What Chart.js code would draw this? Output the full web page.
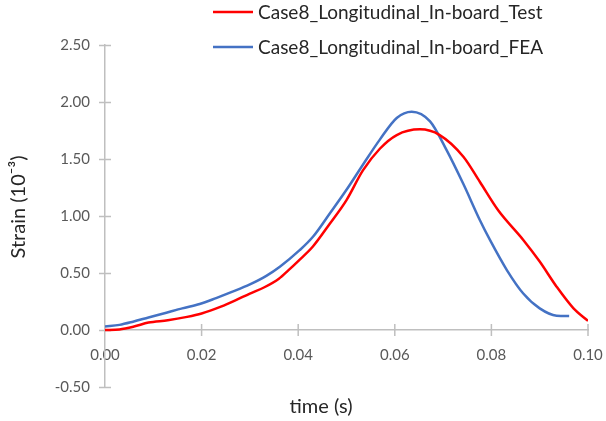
<!DOCTYPE html>
<html><head><meta charset="utf-8">
<script src="https://cdn.jsdelivr.net/npm/chart.js@4/dist/chart.umd.min.js"></script>
<style>html,body{margin:0;padding:0;background:#fff}#wrap{width:606px;height:421px}</style>
</head><body><div id="wrap"><canvas id="c" width="606" height="421"></canvas></div>
<script>
const seriesNames = ['Case8_Longitudinal_In-board_Test', 'Case8_Longitudinal_In-board_FEA'];
const testTime = [0, 0.003, 0.006, 0.009, 0.013, 0.017, 0.020, 0.024, 0.027, 0.030, 0.033, 0.036, 0.038, 0.040, 0.043, 0.0465, 0.050, 0.0534, 0.0569, 0.0604, 0.0652, 0.0693, 0.0742, 0.0776, 0.0814, 0.0866, 0.090, 0.0935, 0.097, 0.100];
const testStrain = [0.0, 0.005, 0.03, 0.065, 0.085, 0.115, 0.145, 0.205, 0.26, 0.32, 0.375, 0.45, 0.525, 0.605, 0.73, 0.93, 1.14, 1.40, 1.59, 1.71, 1.76, 1.71, 1.52, 1.30, 1.05, 0.79, 0.60, 0.38, 0.19, 0.08];
const feaTime = [0, 0.003, 0.0058, 0.009, 0.0127, 0.016, 0.0196, 0.023, 0.0264, 0.030, 0.0334, 0.0362, 0.0403, 0.0431, 0.0465, 0.050, 0.0534, 0.0569, 0.0604, 0.0635, 0.0673, 0.0707, 0.0742, 0.0776, 0.0797, 0.0832, 0.0866, 0.090, 0.0935, 0.0961];
const feaStrain = [0.03, 0.045, 0.073, 0.11, 0.152, 0.19, 0.228, 0.28, 0.336, 0.40, 0.475, 0.555, 0.70, 0.82, 1.02, 1.23, 1.45, 1.67, 1.86, 1.915, 1.83, 1.58, 1.28, 0.965, 0.79, 0.526, 0.32, 0.19, 0.126, 0.123];
const xTickValues = [0, 0.02, 0.04, 0.06, 0.08, 0.10];
const yTickValues = [-0.5, 0, 0.5, 1.0, 1.5, 2.0, 2.5];
const xTitle = 'time (s)';
const yTitle = 'Strain (10\u207B\u00B3)';

const toPts = (xs, ys) => xs.map((x, i) => ({x: x, y: ys[i]}));

const crossTicks = {
  id: 'crossTicks',
  beforeDatasetsDraw(chart) {
    const {ctx, scales: {x, y}} = chart;
    const x0 = x.getPixelForValue(0);
    const y0 = y.getPixelForValue(0);
    ctx.save();
    ctx.strokeStyle = '#bfbfbf';
    ctx.lineWidth = 1.5;
    ctx.beginPath();
    yTickValues.forEach(v => { const p = Math.round(y.getPixelForValue(v)) + 0.5; ctx.moveTo(x0 - 6, p); ctx.lineTo(x0 + 6, p); });
    xTickValues.forEach(v => { if (v === 0) return; const p = x.getPixelForValue(v); ctx.moveTo(p, y0 - 6); ctx.lineTo(p, y0 + 6); });
    ctx.stroke();
    ctx.restore();
  }
};

const titlesAndLegend = {
  id: 'titlesAndLegend',
  afterDraw(chart) {
    const ctx = chart.ctx;
    ctx.save();
    ctx.fillStyle = '#262626';
    ctx.textBaseline = 'middle';
    ctx.font = '20px Lato';
    ctx.textAlign = 'center';
    ctx.fillText(xTitle, 321, 407);
    ctx.save();
    ctx.translate(19, 207);
    ctx.rotate(-Math.PI / 2);
    ctx.fillText(yTitle, 0, 0);
    ctx.restore();
    ctx.font = '19px Lato';
    ctx.textAlign = 'left';
    const rows = [12, 47];
    chart.data.datasets.forEach((ds, i) => {
      ctx.strokeStyle = ds.borderColor;
      ctx.lineWidth = 2.5;
      ctx.beginPath();
      ctx.moveTo(213, rows[i]);
      ctx.lineTo(253, rows[i]);
      ctx.stroke();
      ctx.fillStyle = '#262626';
      ctx.fillText(ds.label, 258, rows[i] + 1);
    });
    ctx.restore();
  }
};

new Chart(document.getElementById('c'), {
  type: 'line',
  data: {
    datasets: [
      {label: seriesNames[0], data: toPts(testTime, testStrain), borderColor: '#ff0000', borderWidth: 2.5, pointRadius: 0, cubicInterpolationMode: 'monotone', fill: false},
      {label: seriesNames[1], data: toPts(feaTime, feaStrain), borderColor: '#4472c4', borderWidth: 2.5, pointRadius: 0, cubicInterpolationMode: 'monotone', fill: false}
    ]
  },
  options: {
    responsive: false,
    animation: false,
    devicePixelRatio: 1,
    layout: {padding: {top: 45, right: 18, bottom: 34, left: 0}},
    plugins: {legend: {display: false}, tooltip: {enabled: false}},
    scales: {
      x: {
        type: 'linear',
        position: {y: 0},
        min: 0, max: 0.1,
        afterBuildTicks: s => { s.ticks = xTickValues.map(v => ({value: v})); },
        grid: {display: false, drawTicks: true, tickLength: 14},
        border: {display: true, color: '#bfbfbf', width: 1.5},
        ticks: {padding: 2, color: '#595959', font: {family: 'Lato', size: 15}, callback: v => Number(v).toFixed(2), maxRotation: 0},
        title: {display: false}
      },
      y: {
        type: 'linear',
        min: -0.5, max: 2.5,
        afterBuildTicks: s => { s.ticks = yTickValues.map(v => ({value: v})); },
        afterFit: s => { s.width = 105; },
        grid: {display: false, drawTicks: false},
        border: {display: true, color: '#bfbfbf', width: 1.5},
        ticks: {padding: 15, color: '#595959', font: {family: 'Lato', size: 15}, callback: v => Number(v).toFixed(2)},
        title: {display: false}
      }
    }
  },
  plugins: [crossTicks, titlesAndLegend]
});
</script>
</body></html>
